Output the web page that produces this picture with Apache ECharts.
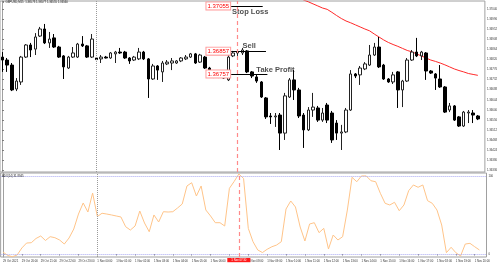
<!DOCTYPE html>
<html><head><meta charset="utf-8">
<script src="https://cdn.jsdelivr.net/npm/echarts@6/dist/echarts.min.js"></script>
<style>html,body{margin:0;padding:0;background:#fff}#c{width:500px;height:265px}</style>
</head><body><div id="c"></div>
<script>
// ---- data ----
const timeLabels = ['29 Oct 2021','29 Oct 20:00','29 Oct 21:00','29 Oct 22:00','29 Oct 23:00',
 '1 Nov 00:00','1 Nov 01:00','1 Nov 02:00','1 Nov 03:00','1 Nov 04:00','1 Nov 05:00','1 Nov 06:00',
 '1 Nov 07:00','1 Nov 08:00','1 Nov 09:00','1 Nov 10:00','1 Nov 11:00','1 Nov 12:00','1 Nov 13:00',
 '1 Nov 14:00','1 Nov 15:00','1 Nov 16:00','1 Nov 17:00','1 Nov 18:00','1 Nov 19:00','1 Nov 20:00'];
const crossTimeLabel = '1 Nov 07:30';
const titleText = '\u25BC GBPUSD,M15  1.36573 1.36577 1.36555 1.36560';
const indicatorTitle = 'ADX(14) 31.8945';
// [open, close, low, high]
const ohlc = [
[1.36831,1.36818,1.36766,1.36853],[1.36818,1.36796,1.36766,1.36827],[1.36796,1.36687,1.36682,1.36805],
[1.36691,1.36726,1.36682,1.36739],[1.36722,1.36831,1.36709,1.36836],[1.36831,1.36884,1.36827,1.36888],
[1.36884,1.36862,1.36831,1.36893],[1.36866,1.36919,1.36840,1.36936],[1.36923,1.36954,1.36919,1.36963],
[1.36954,1.36893,1.36888,1.36976],[1.36893,1.36910,1.36871,1.36941],[1.36915,1.36875,1.36871,1.36932],
[1.36875,1.36831,1.36827,1.36880],[1.36836,1.36788,1.36735,1.36840],[1.36783,1.36831,1.36779,1.36836],
[1.36831,1.36849,1.36827,1.36875],[1.36831,1.36888,1.36827,1.36893],[1.36888,1.36880,1.36875,1.36923],
[1.36880,1.36831,1.36827,1.36884],[1.36831,1.36910,1.36827,1.36932],[1.36827,1.36820,1.36818,1.36831],
[1.36823,1.36831,1.36805,1.36840],[1.36831,1.36827,1.36825,1.36836],[1.36827,1.36849,1.36823,1.36853],
[1.36845,1.36853,1.36805,1.36858],[1.36853,1.36849,1.36845,1.36871],[1.36853,1.36827,1.36823,1.36858],
[1.36827,1.36814,1.36801,1.36831],[1.36818,1.36831,1.36814,1.36836],[1.36823,1.36853,1.36818,1.36871],
[1.36853,1.36823,1.36818,1.36858],[1.36823,1.36735,1.36652,1.36827],[1.36735,1.36792,1.36731,1.36801],
[1.36792,1.36774,1.36731,1.36796],[1.36766,1.36805,1.36722,1.36814],[1.36801,1.36809,1.36796,1.36818],
[1.36805,1.36814,1.36774,1.36827],[1.36805,1.36814,1.36801,1.36818],[1.36814,1.36827,1.36809,1.36831],
[1.36823,1.36831,1.36818,1.36840],[1.36831,1.36845,1.36827,1.36849],[1.36845,1.36805,1.36801,1.36849],
[1.36809,1.36840,1.36805,1.36845],[1.36831,1.36783,1.36779,1.36836],[1.36783,1.36761,1.36757,1.36788],
[1.36766,1.36744,1.36739,1.36770],[1.36757,1.36748,1.36739,1.36761],[1.36761,1.36739,1.36735,1.36766],
[1.36731,1.36831,1.36726,1.36840],[1.36836,1.36849,1.36831,1.36858],[1.36849,1.36853,1.36836,1.36862],
[1.36849,1.36862,1.36840,1.36871],[1.36858,1.36766,1.36761,1.36862],[1.36766,1.36748,1.36739,1.36770],
[1.36744,1.36726,1.36718,1.36753],[1.36722,1.36656,1.36652,1.36726],[1.36652,1.36569,1.36560,1.36656],
[1.36573,1.36569,1.36538,1.36586],[1.36569,1.36573,1.36525,1.36586],[1.36577,1.36498,1.36424,1.36586],
[1.36498,1.36661,1.36468,1.36674],[1.36656,1.36731,1.36652,1.36739],[1.36731,1.36687,1.36643,1.36774],
[1.36687,1.36573,1.36564,1.36696],[1.36577,1.36512,1.36433,1.36586],[1.36512,1.36599,1.36507,1.36612],
[1.36599,1.36612,1.36569,1.36674],[1.36608,1.36555,1.36547,1.36617],[1.36555,1.36586,1.36547,1.36608],
[1.36621,1.36555,1.36542,1.36630],[1.36586,1.36468,1.36455,1.36595],[1.36542,1.36498,1.36468,1.36555],
[1.36498,1.36503,1.36424,1.36534],[1.36503,1.36599,1.36498,1.36608],[1.36599,1.36757,1.36595,1.36774],
[1.36757,1.36748,1.36739,1.36761],[1.36753,1.36783,1.36709,1.36792],[1.36779,1.36801,1.36774,1.36809],
[1.36796,1.36840,1.36792,1.36884],[1.36840,1.36875,1.36836,1.36893],[1.36875,1.36788,1.36783,1.36919],
[1.36796,1.36735,1.36731,1.36801],[1.36735,1.36722,1.36718,1.36739],[1.36722,1.36753,1.36713,1.36766],
[1.36766,1.36687,1.36608,1.36770],[1.36687,1.36726,1.36612,1.36731],[1.36726,1.36818,1.36722,1.36827],
[1.36818,1.36853,1.36814,1.36862],[1.36853,1.36836,1.36831,1.36915],[1.36836,1.36853,1.36818,1.36858],
[1.36849,1.36770,1.36731,1.36853],[1.36770,1.36761,1.36757,1.36774],[1.36757,1.36739,1.36687,1.36761],
[1.36735,1.36700,1.36696,1.36796],[1.36700,1.36590,1.36586,1.36704],[1.36599,1.36617,1.36590,1.36630],
[1.36617,1.36555,1.36551,1.36621],[1.36569,1.36529,1.36525,1.36573],[1.36529,1.36590,1.36525,1.36595],
[1.36586,1.36590,1.36542,1.36599],[1.36586,1.36577,1.36542,1.36599],[1.36573,1.36560,1.36555,1.36577]
];
const maStart = 63;
const maValues = [1.37090,1.37081,1.37073,1.37064,1.37055,1.37046,1.37040,1.37027,1.37013,1.37000,
 1.36989,1.36981,1.36972,1.36963,1.36954,1.36946,1.36932,1.36919,1.36906,1.36895,1.36886,1.36878,
 1.36869,1.36860,1.36854,1.36845,1.36836,1.36827,1.36818,1.36812,1.36805,1.36797,1.36788,1.36779,
 1.36772,1.36766,1.36759,1.36755,1.36751];
const oscValues = [2.6,-1.9,-3.5,-1.3,7.8,14.2,14.6,20.1,23.3,17.5,
 22.4,21.1,18.1,12.9,20.7,32.3,51.7,66.0,54.3,78.9,
 48.5,52.7,51.7,50.5,49.2,47.9,35.3,31.0,36.2,55.6,
 40.1,28.8,50.5,41.4,54.7,54.3,54.7,59.5,64.7,88.0,
 92.2,75.0,88.0,56.9,49.2,40.5,40.5,36.2,85.0,93.8,
 103.5,97.7,33.2,15.9,5.2,1.9,6.1,9.4,11.6,15.9,
 58.2,68.6,60.8,34.9,16.8,38.8,40.5,27.6,33.2,6.5,
 24.6,18.1,22.4,56.9,99.2,93.5,101,101,94.8,93.5,
 78.5,65.6,63.4,66.9,56.0,63.4,81.9,89.3,86.3,89.3,
 69.0,65.6,56.9,37.5,1.7,8.7,1.7,-2.6,12.9,13.8,9.4,5.2];
const priceTicks = [1.37040,1.36996,1.36952,1.36908,1.36864,1.36820,1.36776,1.36732,1.36688,
 1.36644,1.36600,1.36556,1.36512,1.36468,1.36424,1.36380,1.36336];
const oscTicks = [100, 0];
const oscLevels = [100, 0];
const levelNames = ['Stop Loss','Sell','Take Profit'];
const levelPrices = [1.37055, 1.36857, 1.36757];
const daySeparatorIndex = 20;
const crossIndex = 50;

// ---- layout ----
const N = ohlc.length + 1;
const cats = []; for (let i = 0; i < N; i++) cats.push(String(i));
const maSeries = cats.map((c, i) => (i >= maStart && i - maStart < maValues.length) ? maValues[i - maStart] : null);
const lineStarts = [48.6, 48.6, 48.6];
const lineEnds = [55.3, 56.0, 56.3];
const textAnchors = [48.7, 50.9, 53.85];
const textOffsets = [[0, 6], [0, -5.5], [0, -4.5]];

const FONT = 'Liberation Sans';
const CROSS_COLOR = '#ff8a8a';
const chart = echarts.init(document.getElementById('c'), null, {renderer: 'canvas'});
const smallText = {fontSize: 2.8, color: '#333', fontFamily: FONT};

const priceBox = (txt) => ({show: true, position: 'start', formatter: txt, color: '#ff0000', fontSize: 6,
  fontFamily: FONT, backgroundColor: '#fff', borderColor: '#ff9c9c', borderWidth: 1, padding: [1, 1, 0, 1], distance: 1});

chart.setOption({
  animation: false,
  backgroundColor: '#fff',
  title: [
    {text: titleText, left: 2, top: 0.5, padding: 0, textStyle: {fontSize: 2.8, fontWeight: 'normal', color: '#222', fontFamily: FONT}},
    {text: indicatorTitle, left: 2, top: 174.5, padding: 0, textStyle: {fontSize: 2.8, fontWeight: 'normal', color: '#222', fontFamily: FONT}}
  ],
  grid: [
    {left: 0, top: 1, width: 486.5, height: 171, show: true, borderColor: '#a0a0a0', borderWidth: 1},
    {left: 0, top: 173, width: 486.5, height: 84, show: true, borderColor: '#a0a0a0', borderWidth: 1}
  ],
  xAxis: [
    {type: 'category', gridIndex: 0, data: cats, boundaryGap: true, show: false},
    {type: 'category', gridIndex: 1, data: cats, boundaryGap: true,
      axisLine: {show: false},
      axisTick: {show: true, alignWithLabel: true, interval: (i) => i % 4 === 0, length: 1.5, lineStyle: {color: '#888'}},
      axisLabel: {show: true, interval: (i) => i % 4 === 0, align: 'left', margin: 2.5,
        formatter: (v, i) => timeLabels[i / 4] || '', ...smallText},
      splitLine: {show: false}},
    {type: 'value', gridIndex: 0, min: -0.5, max: N - 0.5, show: false},
    {type: 'value', gridIndex: 1, min: -0.5, max: N - 0.5, show: false}
  ],
  yAxis: [
    {type: 'value', gridIndex: 0, position: 'right', min: 1.363276, max: 1.370766, scale: true,
      axisLine: {show: true, lineStyle: {color: '#a0a0a0'}},
      axisTick: {show: true, length: 1.5, customValues: priceTicks, lineStyle: {color: '#666'}},
      axisLabel: {show: true, margin: 2, customValues: priceTicks, formatter: (v) => v.toFixed(5), ...smallText},
      splitLine: {show: false}},
    {type: 'value', gridIndex: 1, position: 'right', min: -3.88, max: 104.79,
      axisLine: {show: true, lineStyle: {color: '#a0a0a0'}},
      axisTick: {show: true, length: 1.5, customValues: oscTicks, lineStyle: {color: '#666'}},
      axisLabel: {show: true, margin: 2, customValues: oscTicks, ...smallText},
      splitLine: {show: false}}
  ],
  series: [
    {type: 'scatter', xAxisIndex: 2, yAxisIndex: 0, z: 1, symbolSize: 1, silent: true,
      itemStyle: {color: 'rgba(0,0,0,0)'},
      data: levelNames.map((n, k) => ({value: [textAnchors[k], levelPrices[k]],
        label: {show: true, position: 'right', distance: 0, offset: textOffsets[k], formatter: n,
          fontSize: 7.5, fontWeight: 'bold', color: '#222', fontFamily: FONT}})),
      markLine: {symbol: 'none', silent: true, animation: false,
        data: levelPrices.map((p, k) => [
          {coord: [lineStarts[k], p], label: priceBox(p.toFixed(5)), lineStyle: {color: '#000', width: 1, type: 'solid'}},
          {coord: [lineEnds[k], p]}
        ]).concat([
          {xAxis: daySeparatorIndex, label: {show: false}, lineStyle: {color: '#9a9a9a', type: 'dotted', width: 1}},
          {xAxis: crossIndex, label: {show: false}, lineStyle: {color: CROSS_COLOR, opacity: 1, type: [4, 3], width: 1.2}}
        ])}},
    {type: 'line', xAxisIndex: 0, yAxisIndex: 0, z: 2, data: maSeries, symbol: 'none', clip: true,
      lineStyle: {color: '#ff2a2a', width: 1}, silent: true},
    {type: 'candlestick', xAxisIndex: 0, yAxisIndex: 0, z: 3, data: ohlc, barWidth: 3, silent: true,
      itemStyle: {color: '#ffffff', color0: '#000000', borderColor: '#222', borderColor0: '#000', borderWidth: 1}},
    {type: 'line', xAxisIndex: 1, yAxisIndex: 1, z: 2, data: oscValues, symbol: 'none', clip: true, silent: true,
      lineStyle: {color: '#ffc489', width: 1},
      markLine: {symbol: 'none', silent: true, animation: false, label: {show: false},
        lineStyle: {color: '#a9a9f2', type: 'dotted', width: 1},
        data: oscLevels.map(v => ({yAxis: v}))}},
    {type: 'scatter', xAxisIndex: 3, yAxisIndex: 1, z: 4, data: [], silent: true,
      markLine: {symbol: 'none', silent: true, animation: false,
        data: [
          {xAxis: daySeparatorIndex, label: {show: false}, lineStyle: {color: '#9a9a9a', type: 'dotted', width: 1}},
          {xAxis: crossIndex, lineStyle: {color: CROSS_COLOR, opacity: 1, type: [4, 3], width: 1.2},
            label: {show: true, position: 'start', formatter: crossTimeLabel, distance: 1,
              backgroundColor: '#ff1a1a', color: '#fff', fontSize: 2.8, fontFamily: FONT, padding: [0.6, 4]}}
        ]}}
  ]
});
</script>
</body></html>
